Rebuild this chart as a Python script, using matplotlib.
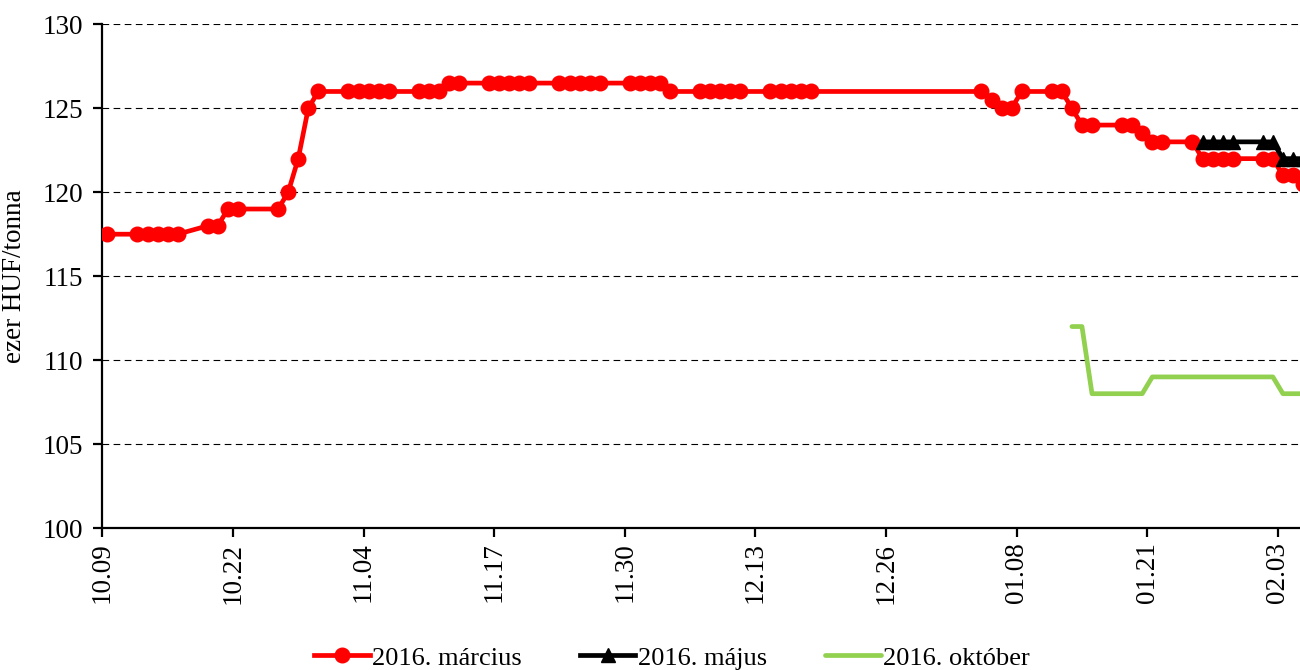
import pandas as pd
import matplotlib
matplotlib.use('Agg')
import matplotlib.pyplot as plt
import matplotlib.dates as mdates

plt.rcParams['font.family'] = 'Liberation Serif'

# 2016. március contract (daily quotes, ezer HUF/tonna)
marc_dates = ['2015-10-09', '2015-10-12', '2015-10-13', '2015-10-14', '2015-10-15', '2015-10-16',
              '2015-10-19', '2015-10-20', '2015-10-21', '2015-10-22', '2015-10-26', '2015-10-27',
              '2015-10-28', '2015-10-29', '2015-10-30', '2015-11-02', '2015-11-03', '2015-11-04',
              '2015-11-05', '2015-11-06', '2015-11-09', '2015-11-10', '2015-11-11', '2015-11-12',
              '2015-11-13', '2015-11-16', '2015-11-17', '2015-11-18', '2015-11-19', '2015-11-20',
              '2015-11-23', '2015-11-24', '2015-11-25', '2015-11-26', '2015-11-27', '2015-11-30',
              '2015-12-01', '2015-12-02', '2015-12-03', '2015-12-04', '2015-12-07', '2015-12-08',
              '2015-12-09', '2015-12-10', '2015-12-11', '2015-12-14', '2015-12-15', '2015-12-16',
              '2015-12-17', '2015-12-18', '2016-01-04', '2016-01-05', '2016-01-06', '2016-01-07',
              '2016-01-08', '2016-01-11', '2016-01-12', '2016-01-13', '2016-01-14', '2016-01-15',
              '2016-01-18', '2016-01-19', '2016-01-20', '2016-01-21', '2016-01-22', '2016-01-25',
              '2016-01-26', '2016-01-27', '2016-01-28', '2016-01-29', '2016-02-01', '2016-02-02',
              '2016-02-03', '2016-02-04', '2016-02-05']
marc_values = [117.5, 117.5, 117.5, 117.5, 117.5, 117.5,
               118, 118, 119, 119, 119, 120,
               122, 125, 126, 126, 126, 126,
               126, 126, 126, 126, 126, 126.5,
               126.5, 126.5, 126.5, 126.5, 126.5, 126.5,
               126.5, 126.5, 126.5, 126.5, 126.5, 126.5,
               126.5, 126.5, 126.5, 126, 126, 126,
               126, 126, 126, 126, 126, 126,
               126, 126, 126, 125.5, 125, 125,
               126, 126, 126, 125, 124, 124,
               124, 124, 123.5, 123, 123, 123,
               122, 122, 122, 122, 122, 122,
               121, 121, 120.5]

# 2016. május
maj_dates = ['2016-01-26', '2016-01-27', '2016-01-28', '2016-01-29', '2016-02-01', '2016-02-02',
             '2016-02-03', '2016-02-04', '2016-02-05']
maj_values = [123, 123, 123, 123, 123, 123, 122, 122, 122]

# 2016. október
okt_dates = ['2016-01-13', '2016-01-14', '2016-01-15', '2016-01-18', '2016-01-19', '2016-01-20',
             '2016-01-21', '2016-01-22', '2016-01-25', '2016-01-26', '2016-01-27', '2016-01-28',
             '2016-01-29', '2016-02-01', '2016-02-02', '2016-02-03', '2016-02-04', '2016-02-05']
okt_values = [112, 112, 108, 108, 108, 108,
              109, 109, 109, 109, 109, 109,
              109, 109, 109, 108, 108, 108]

series_labels = ['2016. március', '2016. május', '2016. október']

# excel date axis puts each day's point in the middle of the day slot
half_day = pd.Timedelta(hours=12)
x_marc = pd.to_datetime(marc_dates) + half_day
x_maj = pd.to_datetime(maj_dates) + half_day
x_okt = pd.to_datetime(okt_dates) + half_day

fig = plt.figure(figsize=(13, 6.7), dpi=100)
ax = fig.add_axes([0.0787, 0.2119, 0.9213, 0.7518])

ax.plot(x_marc, marc_values, color='#FF0000', lw=3.4, marker='o', markersize=10.5,
        label=series_labels[0], zorder=3)
ax.plot(x_maj, maj_values, color='black', lw=3.4, marker='^', markersize=10,
        label=series_labels[1], zorder=4)
ax.plot(x_okt, okt_values, color='#92D050', lw=3.4, solid_capstyle='round',
        label=series_labels[2], zorder=5)

ax.set_ylim(100, 130)
ax.set_yticks(range(100, 131, 5))
start = pd.Timestamp('2015-10-09')
ax.set_xlim(start, start + pd.Timedelta(days=119.2))
ax.set_xticks(pd.date_range(start, periods=10, freq='13D'))
ax.xaxis.set_major_formatter(mdates.DateFormatter('%m.%d'))
plt.setp(ax.get_xticklabels(), rotation=90)

ax.grid(axis='y', color='black', lw=0.8, linestyle=(0, (6, 4)))
ax.set_axisbelow(True)
for s in ['top', 'right']:
    ax.spines[s].set_visible(False)
ax.spines['left'].set_linewidth(1.6)
ax.spines['bottom'].set_linewidth(1.6)
ax.tick_params(axis='both', direction='out', length=6.5, width=1.6, labelsize=19.5, colors='black')
ax.tick_params(axis='y', pad=7)
ax.tick_params(axis='x', pad=4)

ax.set_ylabel('ezer HUF/tonna', fontsize=19.5)
ax.yaxis.set_label_coords(-0.063, 0.5)

fig.legend(loc='center', bbox_to_anchor=(0.517, 0.018), ncol=3, frameon=False, fontsize=19,
           handlelength=2.1, handletextpad=0.1, columnspacing=2.2)

plt.savefig('out.png', dpi=100)
